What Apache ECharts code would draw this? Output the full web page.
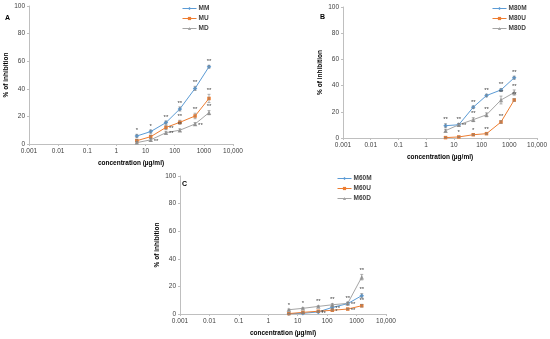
<!DOCTYPE html>
<html>
<head>
<meta charset="utf-8">
<script src="https://cdn.jsdelivr.net/npm/echarts@6/dist/echarts.min.js"></script>
<style>html,body{margin:0;padding:0;background:#fff}#c{width:550px;height:339px}</style>
</head>
<body>
<div id="c"></div>
<script>
// ---- data ----
const conc = [5, 15, 50, 150, 500, 1500];
const xTickLabels = ['0.001', '0.01', '0.1', '1', '10', '100', '1000', '10,000'];
const yTicks = [0, 20, 40, 60, 80, 100];

// Panel A
const MM = [5.8, 9, 15.5, 25.4, 40.3, 56];
const MM_err = [1.2, 1.2, 1.2, 1.5, 1.5, 1];
const MM_sig = ['*', '*', '**', '**', '**', '**'];
const MU = [2.4, 5.3, 12, 15.7, 20.3, 33];
const MU_err = [1, 1.2, 1.5, 1.5, 2, 3];
const MU_sig = ['', '', '**', '**', '**', '**'];
const MD = [1, 3, 8.2, 10, 14.5, 22.7];
const MD_err = [0.8, 1, 1, 1, 1, 1.5];
const MD_sig = ['', '**', '**', '**', '**', '**'];

// Panel B
const M80M = [9.4, 10.1, 23.5, 32.4, 36.7, 46];
const M80M_err = [1.5, 1, 1, 1, 1, 1.2];
const M80M_sig = ['**', '**', '**', '**', '**', '**'];
const M80U = [0.3, 0.8, 2.5, 3.3, 12.2, 29];
const M80U_err = [0.3, 0.4, 0.5, 0.5, 1, 1];
const M80U_sig = ['', '*', '*', '**', '**', '**'];
const M80D = [5.6, 10.1, 14, 17.7, 29, 34.7];
const M80D_err = [1, 1, 1.5, 1.5, 3, 2];
const M80D_sig = ['', '**', '**', '**', '**', '**'];

// Panel C
const M60M = [0.2, 0.5, 1.5, 4.8, 7.5, 13.3];
const M60M_err = [0.3, 0.3, 0.5, 0.8, 1, 1.5];
const M60M_sig = ['', '', '**', '**', '**', '**'];
const M60U = [0.3, 1.2, 2, 2.7, 3.6, 6];
const M60U_err = [0.3, 0.3, 0.5, 0.5, 0.5, 1];
const M60U_sig = ['', '', '*', '*', '**', '**'];
const M60D = [3.1, 4.1, 5.5, 6.7, 7.7, 26.7];
const M60D_err = [0.5, 0.5, 0.5, 0.8, 0.8, 2];
const M60D_sig = ['*', '*', '**', '**', '**', '**'];

// ---- styling / layout ----
const FONT = 'Liberation Sans';
const COLORS = ['#5B9BD5', '#ED7D31', '#A5A5A5'];
const SYMBOLS = ['diamond', 'rect', 'triangle'];
const SYMSIZE = [4.5, 3.5, 4.5];

const panels = [
  { letter: 'A', grid: { left: 29, top: 6, width: 204, height: 138 },
    legendPos: { left: 180, top: 3 },
    letterPos: [5, 15],
    series: [
      { name: 'MM', v: MM, e: MM_err, s: MM_sig, side: ['t','t','t','t','t','t'] },
      { name: 'MU', v: MU, e: MU_err, s: MU_sig, side: ['t','t','r','t','t','t'] },
      { name: 'MD', v: MD, e: MD_err, s: MD_sig, side: ['t','r','r','t','r','t'] }
    ] },
  { letter: 'B', grid: { left: 343, top: 7, width: 195, height: 131 },
    legendPos: { left: 490, top: 3 },
    letterPos: [320, 14],
    series: [
      { name: 'M80M', v: M80M, e: M80M_err, s: M80M_sig, side: ['t','t','t','t','t','t'] },
      { name: 'M80U', v: M80U, e: M80U_err, s: M80U_sig, side: ['t','t','t','t','t','t'] },
      { name: 'M80D', v: M80D, e: M80D_err, s: M80D_sig, side: ['t','r','t','t','t','t'] }
    ] },
  { letter: 'C', grid: { left: 180, top: 176, width: 206, height: 138 },
    legendPos: { left: 335, top: 173 },
    letterPos: [182, 181],
    series: [
      { name: 'M60M', v: M60M, e: M60M_err, s: M60M_sig, side: ['t','t','r','r','r','t'] },
      { name: 'M60U', v: M60U, e: M60U_err, s: M60U_sig, side: ['t','t','r','r','r','t'] },
      { name: 'M60D', v: M60D, e: M60D_err, s: M60D_sig, side: ['t','t','t','t','t','t'] }
    ] }
];

const grid = [], xAxis = [], yAxis = [], series = [], legend = [], graphic = [];

panels.forEach((p, pi) => {
  grid.push(p.grid);
  xAxis.push({
    type: 'log', logBase: 10, min: 0.001, max: 10000, gridIndex: pi,
    splitNumber: 7,
    name: 'concentration (µg/ml)', nameLocation: 'middle', nameGap: 16,
    nameTextStyle: { fontFamily: FONT, fontSize: 6.5, fontWeight: 'bold', color: '#000' },
    axisLine: { lineStyle: { color: '#BFBFBF', width: 1 } },
    axisTick: { show: true, length: 2, lineStyle: { color: '#BFBFBF' } },
    splitLine: { show: false },
    axisLabel: {
      fontFamily: FONT, fontSize: 6.5, color: '#404040', margin: 4,
      formatter: v => xTickLabels[Math.round(Math.log10(v)) + 3] || ''
    }
  });
  yAxis.push({
    type: 'value', min: yTicks[0], max: yTicks[yTicks.length - 1], interval: 20, gridIndex: pi,
    name: '% of inhibition', nameLocation: 'middle', nameGap: 19,
    nameTextStyle: { fontFamily: FONT, fontSize: 6.5, fontWeight: 'bold', color: '#000' },
    axisLine: { show: true, lineStyle: { color: '#BFBFBF', width: 1 } },
    axisTick: { show: true, length: 2, lineStyle: { color: '#BFBFBF' } },
    splitLine: { show: false },
    axisLabel: { fontFamily: FONT, fontSize: 6.5, color: '#404040', margin: 4 }
  });
  const names = [];
  p.series.forEach((s, si) => {
    names.push(s.name);
    const color = COLORS[si];
    series.push({
      type: 'line', name: s.name, xAxisIndex: pi, yAxisIndex: pi,
      data: conc.map((c, i) => [c, s.v[i]]),
      symbol: SYMBOLS[si], symbolSize: SYMSIZE[si], showAllSymbol: true,
      color: color,
      lineStyle: { color, width: 1 }, itemStyle: { color },
      z: 3
    });
    // error bars + significance marks
    series.push({
      type: 'custom', name: s.name + '_err', xAxisIndex: pi, yAxisIndex: pi,
      data: conc.map((c, i) => [c, s.v[i], s.e[i], i]),
      renderItem: (params, api) => {
        const i = api.value(3);
        const x = api.value(0), v = api.value(1), e = api.value(2);
        const top = api.coord([x, v + e]);
        const bot = api.coord([x, Math.max(0, v - e)]);
        const mid = api.coord([x, v]);
        const children = [
          { type: 'line', shape: { x1: top[0], y1: top[1], x2: bot[0], y2: bot[1] }, style: { stroke: '#7F7F7F', lineWidth: 0.6 } },
          { type: 'line', shape: { x1: top[0] - 1.5, y1: top[1], x2: top[0] + 1.5, y2: top[1] }, style: { stroke: '#7F7F7F', lineWidth: 0.6 } },
          { type: 'line', shape: { x1: bot[0] - 1.5, y1: bot[1], x2: bot[0] + 1.5, y2: bot[1] }, style: { stroke: '#7F7F7F', lineWidth: 0.6 } }
        ];
        const txt = s.s[i];
        if (txt) {
          const right = s.side[i] === 'r';
          children.push({
            type: 'text',
            x: right ? mid[0] + 3 : top[0], y: right ? mid[1] + 1 : top[1] - 1,
            style: { text: txt, fontFamily: FONT, fontSize: 6, fill: '#404040',
              textAlign: right ? 'left' : 'center', textVerticalAlign: right ? 'middle' : 'bottom' }
          });
        }
        return { type: 'group', children };
      },
      z: 4, silent: true
    });
  });
  legend.push({
    data: names,
    orient: 'vertical', left: p.legendPos.left, top: p.legendPos.top,
    itemWidth: 14, itemHeight: 4, itemGap: 3,
    padding: 2,
    lineStyle: { width: 1 },
    textStyle: { fontFamily: FONT, fontSize: 6.5, fontWeight: 'bold', color: '#404040', padding: [0, 0, 0, -3] },
    selectedMode: false
  });
  graphic.push({ type: 'text', left: p.letterPos[0], top: p.letterPos[1],
    style: { text: p.letter, fontFamily: FONT, fontSize: 7, fontWeight: 'bold', fill: '#000' } });
});

const chart = echarts.init(document.getElementById('c'), null, { renderer: 'canvas' });
chart.setOption({
  animation: false,
  backgroundColor: '#fff',
  grid, xAxis, yAxis, series, legend, graphic
});
</script>
</body>
</html>
